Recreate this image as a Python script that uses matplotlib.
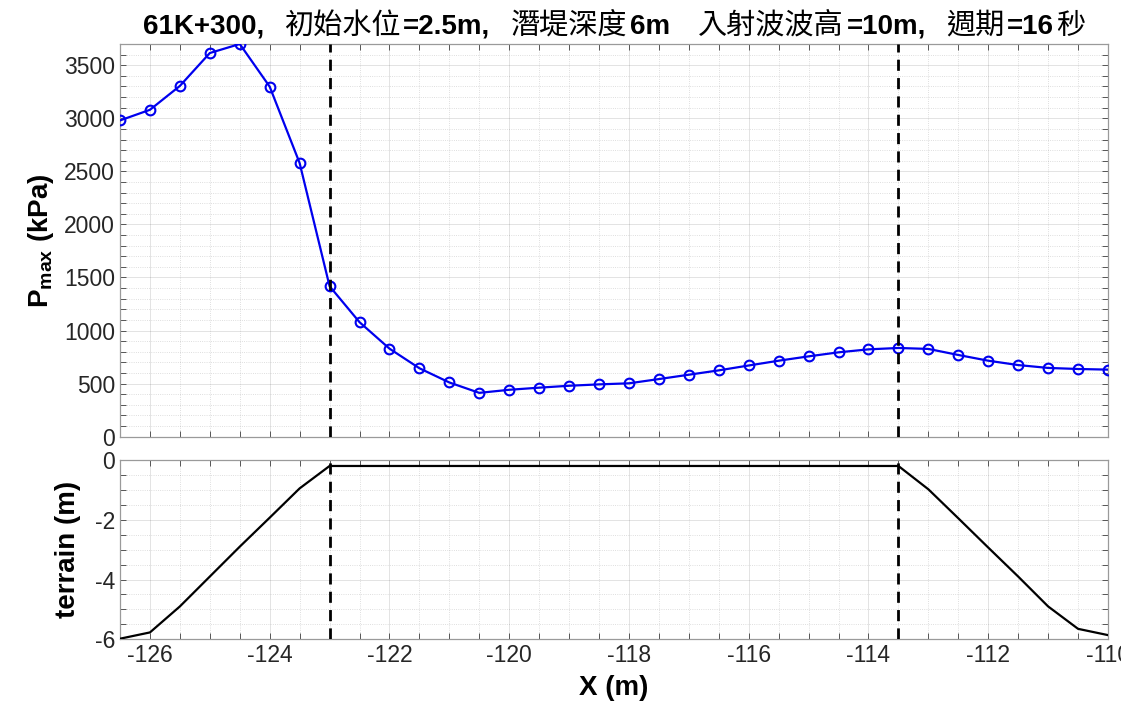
import matplotlib
matplotlib.use("Agg")
import matplotlib.pyplot as plt
from matplotlib.ticker import MultipleLocator

plt.rcParams['font.family'] = ['Liberation Sans', 'Noto Sans CJK TC']
plt.rcParams['mathtext.fontset'] = 'custom'
plt.rcParams['mathtext.rm'] = 'Liberation Sans'
plt.rcParams['mathtext.bf'] = 'Liberation Sans:bold'
plt.rcParams['axes.unicode_minus'] = False

# station positions (m)
xs = [-126.5, -126.0, -125.5, -125.0, -124.5, -124.0, -123.5, -123.0,
      -122.5, -122.0, -121.5, -121.0, -120.5, -120.0, -119.5, -119.0,
      -118.5, -118.0, -117.5, -117.0, -116.5, -116.0, -115.5, -115.0,
      -114.5, -114.0, -113.5, -113.0, -112.5, -112.0, -111.5, -111.0,
      -110.5, -110.0]

# max pressure (kPa)
pmax = [2980, 3080, 3305, 3615, 3700, 3298, 2578, 1418,
        1079, 830, 645, 511, 413, 442, 462, 480,
        493, 503, 543, 584, 625, 671, 716, 757,
        795, 823, 836, 827, 770, 716, 675, 648,
        638, 632]

# terrain elevation (m)
terrain = [-5.98, -5.77, -4.9, -3.9, -2.9, -1.93, -0.95, -0.2,
           -0.2, -0.2, -0.2, -0.2, -0.2, -0.2, -0.2, -0.2,
           -0.2, -0.2, -0.2, -0.2, -0.2, -0.2, -0.2, -0.2,
           -0.2, -0.2, -0.2, -0.98, -1.95, -2.93, -3.9, -4.9,
           -5.65, -5.86]

# breakwater crest edges
edges = [-123.0, -113.5]

W, H = 1121, 715
fig = plt.figure(figsize=(W / 100, H / 100), dpi=100)
ax1 = fig.add_axes([120 / W, 1 - 436.7 / H, 988 / W, 392.7 / H])
ax2 = fig.add_axes([120 / W, 1 - 639.3 / H, 988 / W, 179.3 / H])

ax1.plot(xs, pmax, color='#0000ee', lw=1.6, marker='o', ms=7,
         mfc='none', mec='#0000ee', mew=1.5, zorder=3)
ax2.plot(xs, terrain, color='k', lw=1.6, zorder=3)

for ax in (ax1, ax2):
    for e in edges:
        ax.axvline(e, color='k', lw=2.0, ls=(0, (4, 2.6)), zorder=4)
    ax.set_xlim(-126.5, -110)
    ax.xaxis.set_major_locator(MultipleLocator(2))
    ax.xaxis.set_minor_locator(MultipleLocator(0.5))
    ax.grid(True, which='major', color='#262626', alpha=0.15, lw=0.6)
    ax.grid(True, which='minor', color='#262626', alpha=0.2, lw=0.6, ls=':')
    ax.tick_params(which='both', direction='in', top=True, right=True,
                   length=4, width=0.7, color='#555555',
                   labelsize=16.5, labelcolor='#262626')
    for s in ax.spines.values():
        s.set_color('#9a9a9a')
        s.set_linewidth(0.9)
    ax.set_axisbelow(True)

ax1.set_ylim(0, 3700)
ax1.yaxis.set_major_locator(MultipleLocator(500))
ax1.yaxis.set_minor_locator(MultipleLocator(100))
ax1.tick_params(labelbottom=False)
ax1.set_ylabel(r'$\mathbf{P_{max}}$ (kPa)', fontsize=20, fontweight='bold', labelpad=6)

ax2.set_ylim(-6, 0)
ax2.yaxis.set_major_locator(MultipleLocator(2))
ax2.yaxis.set_minor_locator(MultipleLocator(0.5))
ax2.set_ylabel('terrain (m)', fontsize=20, fontweight='bold', labelpad=10)
ax2.set_xlabel('X (m)', fontsize=20, fontweight='bold', labelpad=6)

# title: bold latin parts, regular CJK parts
pieces = [("61K+300,", True, 20), ("初始水位", False, 3), ("=2.5m,", True, 20),
          ("潛堤深度", False, 3), ("6m", True, 28), ("入射波波高", False, 3),
          ("=10m,", True, 20), ("週期", False, 3), ("=16", True, 2), ("秒", False, 0)]
texts = []
for s, b, g in pieces:
    if b:
        t = fig.text(0, 0, s, fontsize=20, fontweight='bold',
                     family='Liberation Sans', va='baseline')
    else:
        t = fig.text(0, 0, s, fontsize=21, family='Noto Sans CJK TC',
                     va='baseline')
    texts.append(t)
fig.canvas.draw()
r = fig.canvas.get_renderer()
widths = [t.get_window_extent(r).width for t in texts]
total = sum(widths) + sum(p[2] for p in pieces)
cx = 120 + 988 / 2
x0 = cx - total / 2
for t, w, p in zip(texts, widths, pieces):
    t.set_position((x0 / W, 1 - 34 / H))
    x0 += w + p[2]

fig.savefig('out.png', dpi=100)
